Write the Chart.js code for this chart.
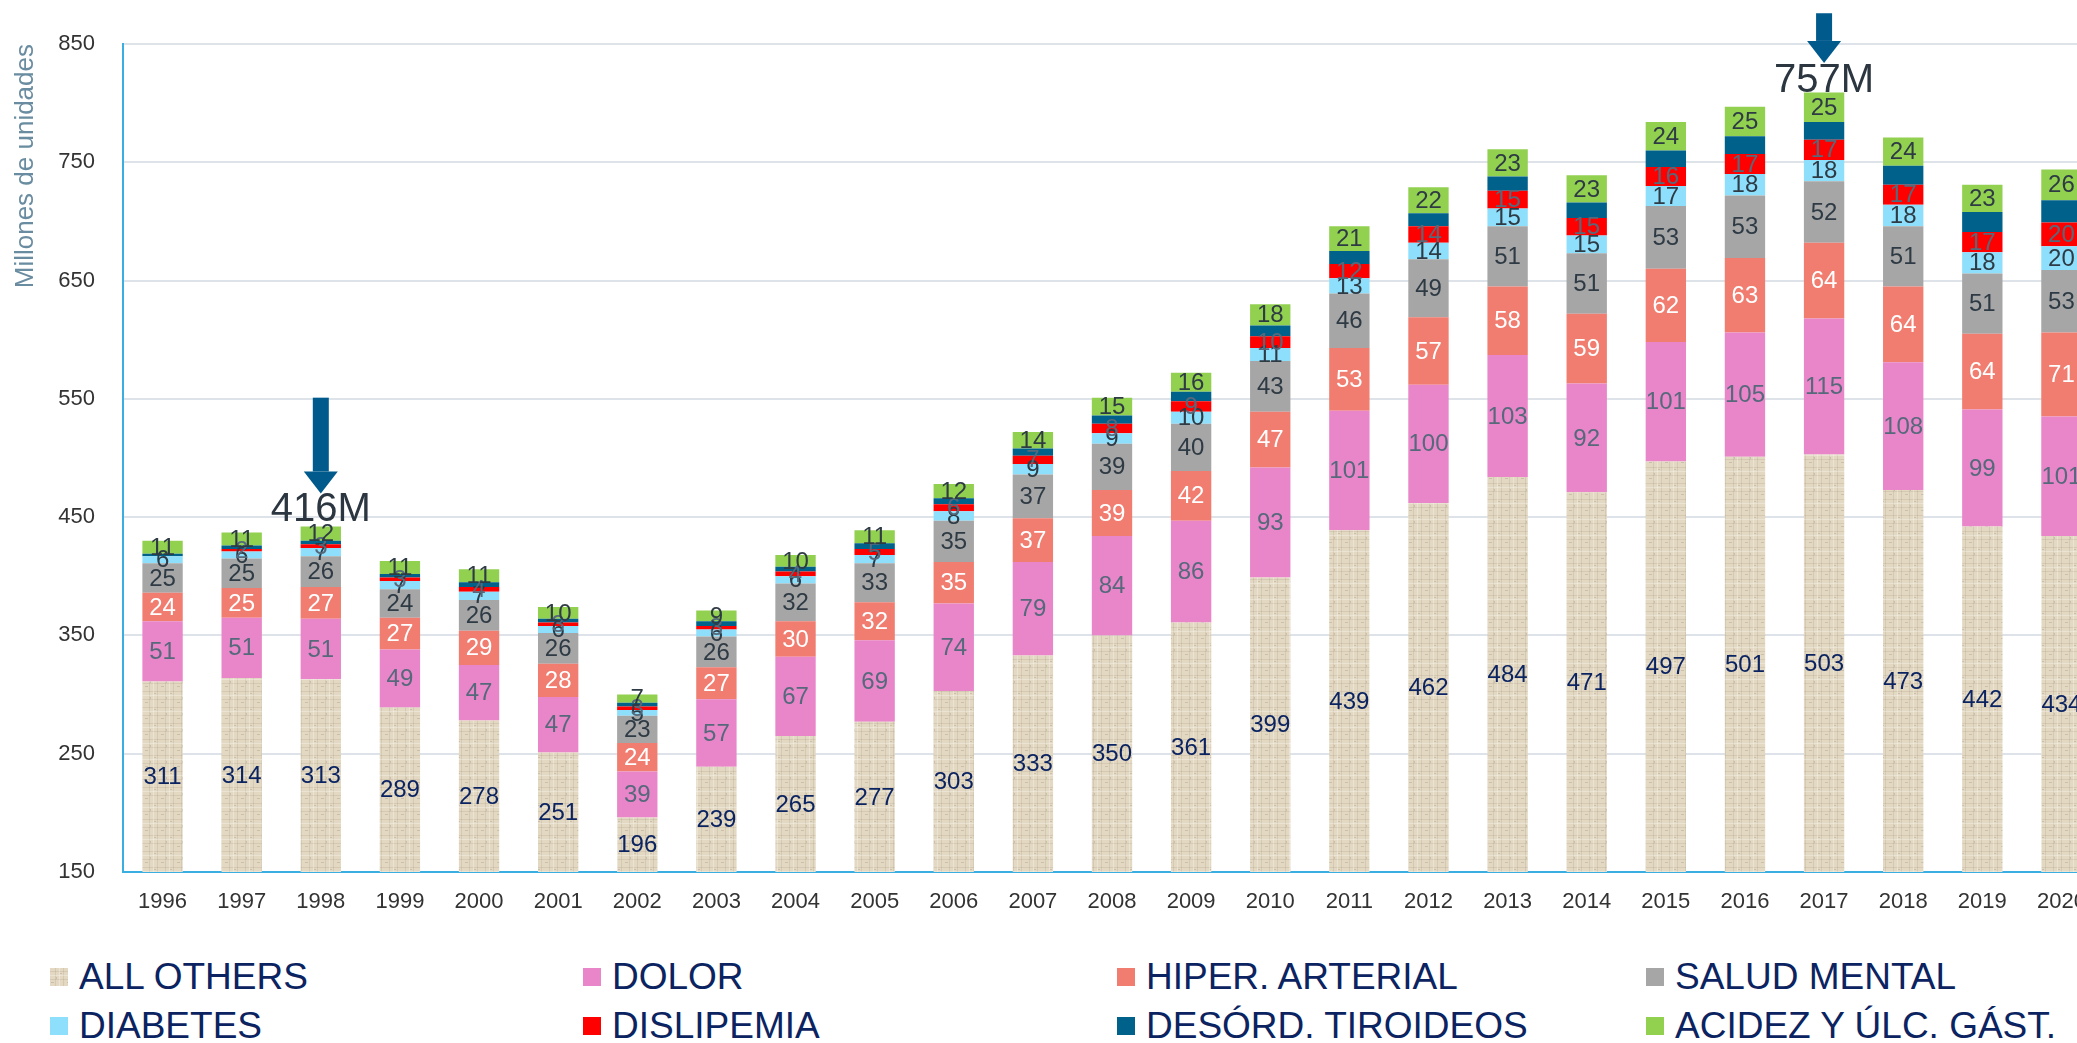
<!DOCTYPE html>
<html>
<head>
<meta charset="utf-8">
<script src="https://cdn.jsdelivr.net/npm/chart.js@4.4.1/dist/chart.umd.min.js"></script>
<style>
  html, body { margin: 0; padding: 0; background: #fff; overflow: hidden; width: 2077px; height: 1043px; }
  #wrap { position: absolute; left: 0; top: 0; }
  #legend {
    position: absolute; left: 50px; top: 952px;
    display: grid; grid-template-columns: 533px 534px 529px 533px;
  }
  .item { display: flex; align-items: center; height: 49px; white-space: nowrap;
          font: 37px 'Liberation Sans', Arial, sans-serif; color: #0b2461; }
  .box { width: 18px; height: 18px; margin-right: 11px; flex: none; }
</style>
</head>
<body>
<div id="wrap"><canvas id="myChart" width="2105" height="930"></canvas></div>
<div id="legend"></div>

<script>
// Categories
const years = ['1996', '1997', '1998', '1999', '2000', '2001', '2002', '2003', '2004', '2005', '2006', '2007',
               '2008', '2009', '2010', '2011', '2012', '2013', '2014', '2015', '2016', '2017', '2018', '2019', '2020'];

// Series (millones de unidades)
const allOthers   = [311, 314, 313, 289, 278, 251, 196, 239, 265, 277, 303, 333, 350, 361, 399, 439, 462, 484, 471, 497, 501, 503, 473, 442, 434];
const dolor       = [51, 51, 51, 49, 47, 47, 39, 57, 67, 69, 74, 79, 84, 86, 93, 101, 100, 103, 92, 101, 105, 115, 108, 99, 101];
const hiperArt    = [24, 25, 27, 27, 29, 28, 24, 27, 30, 32, 35, 37, 39, 42, 47, 53, 57, 58, 59, 62, 63, 64, 64, 64, 71];
const saludMental = [25, 25, 26, 24, 26, 26, 23, 26, 32, 33, 35, 37, 39, 40, 43, 46, 49, 51, 51, 53, 53, 52, 51, 51, 53];
const diabetes    = [6, 6, 7, 7, 7, 6, 5, 6, 6, 7, 8, 9, 9, 10, 11, 13, 14, 15, 15, 17, 18, 18, 18, 18, 20];
const dislipemia  = [0, 2, 3, 3, 4, 3, 3, 3, 4, 5, 6, 7, 8, 9, 10, 12, 14, 15, 15, 16, 17, 17, 17, 17, 20];
const tiroideos   = [2, 3, 3, 3, 4, 3, 3, 4, 4, 5, 5, 6, 7, 8, 9, 11, 11, 12, 13, 14, 15, 15, 16, 17, 19];
const acidez      = [11, 11, 12, 11, 11, 10, 7, 9, 10, 11, 12, 14, 15, 16, 18, 21, 22, 23, 23, 24, 25, 25, 24, 23, 26];

const seriesNames = ['ALL OTHERS', 'DOLOR', 'HIPER. ARTERIAL', 'SALUD MENTAL',
                     'DIABETES', 'DISLIPEMIA', 'DESÓRD. TIROIDEOS', 'ACIDEZ Y ÚLC. GÁST.'];
const seriesData = [allOthers, dolor, hiperArt, saludMental, diabetes, dislipemia, tiroideos, acidez];

// Styling
const FONT = "'Liberation Sans', Arial, sans-serif";
const seriesColors = [null, '#e985c9', '#f07d70', '#a6a6a6', '#8edffc', '#ff0000', '#00618a', '#92d050'];
const labelColors  = ['#0b2461', '#56697b', '#ffffff', '#2e3a44', '#2e3a44', '#56697b', null, '#2e3a44'];

// Callouts (arrow + text), in axis units
const callouts = [
  { year: '1998', text: '416M', textAt: 456, tipAt: 470, tailAt: 551 },
  { year: '2017', text: '757M', textAt: 819, tipAt: 834, tailAt: 876 }
];

// Burlap-like texture for "ALL OTHERS"
function linenTile() {
  const c = document.createElement('canvas');
  c.width = 16; c.height = 16;
  const g = c.getContext('2d');
  g.fillStyle = '#e3d8c2';
  g.fillRect(0, 0, 16, 16);
  g.fillStyle = 'rgba(150,135,110,0.18)';
  g.fillRect(0, 3, 16, 1); g.fillRect(0, 11, 16, 1);
  g.fillRect(5, 0, 1, 16); g.fillRect(13, 0, 1, 16);
  g.fillStyle = 'rgba(255,255,255,0.30)';
  g.fillRect(0, 7, 16, 1); g.fillRect(9, 0, 1, 16);
  g.fillStyle = 'rgba(120,105,80,0.22)';
  g.fillRect(1, 14, 3, 1); g.fillRect(10, 5, 2, 1); g.fillRect(6, 9, 1, 2);
  return c;
}
const tile = linenTile();
const ctx = document.getElementById('myChart').getContext('2d');
seriesColors[0] = ctx.createPattern(tile, 'repeat');

// Value labels inside each segment
const segmentLabels = {
  id: 'segmentLabels',
  afterDatasetsDraw(chart) {
    const c = chart.ctx, area = chart.chartArea;
    c.save();
    c.font = '24px ' + FONT;
    c.textAlign = 'center';
    c.textBaseline = 'middle';
    chart.data.datasets.forEach((ds, i) => {
      if (!labelColors[i]) return;
      chart.getDatasetMeta(i).data.forEach((bar, j) => {
        const v = ds.data[j];
        if (!v) return;
        const top = Math.max(bar.y, area.top);
        const bottom = Math.min(bar.base, area.bottom);
        c.fillStyle = labelColors[i];
        c.fillText(v, bar.x, (top + bottom) / 2 + 1);
      });
    });
    c.restore();
  }
};

// Arrows with totals
const calloutPlugin = {
  id: 'callouts',
  afterDraw(chart) {
    const c = chart.ctx, xs = chart.scales.x, ys = chart.scales.y;
    c.save();
    callouts.forEach(a => {
      const x = xs.getPixelForValue(years.indexOf(a.year));
      const tip = ys.getPixelForValue(a.tipAt);
      const tail = ys.getPixelForValue(a.tailAt);
      const head = 22;
      c.fillStyle = '#005a8c';
      c.fillRect(x - 8, tail, 16, tip - head - tail);
      c.beginPath();
      c.moveTo(x - 17, tip - head);
      c.lineTo(x + 17, tip - head);
      c.lineTo(x, tip);
      c.closePath();
      c.fill();
      c.fillStyle = '#2b3640';
      c.font = '40px ' + FONT;
      c.textAlign = 'center';
      c.textBaseline = 'middle';
      c.fillText(a.text, x, ys.getPixelForValue(a.textAt));
    });
    c.restore();
  }
};

Chart.defaults.font.family = FONT;

new Chart(ctx, {
  type: 'bar',
  data: {
    labels: years,
    datasets: seriesNames.map((name, i) => ({
      label: name,
      data: seriesData[i],
      backgroundColor: seriesColors[i],
      borderWidth: 0,
      categoryPercentage: 1,
      barPercentage: 0.51
    }))
  },
  options: {
    responsive: false,
    animation: false,
    layout: { padding: { left: 10, right: 4, top: 44, bottom: 0 } },
    plugins: {
      legend: { display: false },
      tooltip: { enabled: false }
    },
    scales: {
      x: {
        stacked: true,
        grid: { display: false },
        border: { color: '#3aaee0', width: 2 },
        ticks: { color: '#333', font: { size: 22 }, padding: 9, maxRotation: 0, autoSkip: false },
        afterFit(s) { s.height = 58; }
      },
      y: {
        stacked: true,
        min: 150,
        max: 850,
        ticks: { stepSize: 100, color: '#333', font: { size: 22 }, padding: 28 },
        grid: { color: '#dde3e8', lineWidth: 2, drawTicks: false },
        border: { color: '#3aaee0', width: 2 },
        title: {
          display: true,
          text: 'Millones de unidades',
          align: 'end',
          color: '#6a8ca0',
          font: { size: 26 },
          padding: 0
        },
        afterFit(s) { s.width = 113; }
      }
    }
  },
  plugins: [segmentLabels, calloutPlugin]
});

// Legend
const legend = document.getElementById('legend');
const tileUrl = tile.toDataURL();
seriesNames.forEach((name, i) => {
  const item = document.createElement('div');
  item.className = 'item';
  const box = document.createElement('span');
  box.className = 'box';
  if (i === 0) box.style.backgroundImage = 'url(' + tileUrl + ')';
  else box.style.background = seriesColors[i];
  item.appendChild(box);
  item.appendChild(document.createTextNode(name));
  legend.appendChild(item);
});
</script>
</body>
</html>
